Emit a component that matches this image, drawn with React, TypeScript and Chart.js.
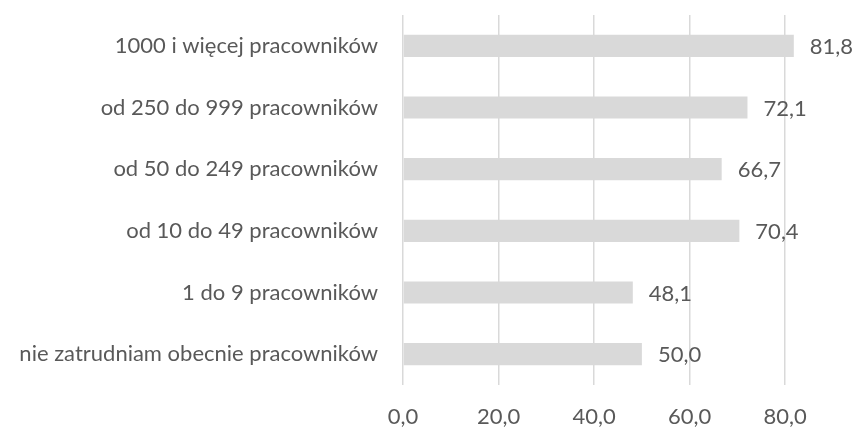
import React, { useEffect, useRef } from "react";
import { Chart, registerables } from "chart.js";

Chart.register(...registerables);

const categories = [
  "1000 i więcej pracowników",
  "od 250 do 999 pracowników",
  "od 50 do 249 pracowników",
  "od 10 do 49 pracowników",
  "1 do 9 pracowników",
  "nie zatrudniam obecnie pracowników",
];
const values = [81.8, 72.1, 66.7, 70.4, 48.1, 50.0];
const axisMax = 90;
const axisStep = 20;

const FONT = "Lato, 'Open Sans', sans-serif";
const FONT_SIZE = 22;
const TEXT = "#595959";
const GRAY = "#d9d9d9";

const fmt = (v: number) => v.toFixed(1).replace(".", ",");

// Draws each bar's value just past its end.
const valueLabels = {
  id: "valueLabels",
  afterDatasetsDraw(chart: any) {
    const { ctx } = chart;
    const meta = chart.getDatasetMeta(0);
    ctx.save();
    ctx.font = `${FONT_SIZE}px ${FONT}`;
    ctx.fillStyle = TEXT;
    ctx.textAlign = "left";
    ctx.textBaseline = "middle";
    meta.data.forEach((bar: any, i: number) => {
      ctx.fillText(fmt(values[i]), bar.x + 16, bar.y + 1);
    });
    ctx.restore();
  },
};

export default function App() {
  const ref = useRef<HTMLCanvasElement | null>(null);

  useEffect(() => {
    if (!ref.current) return;
    const chart = new Chart(ref.current, {
      type: "bar",
      data: {
        labels: categories,
        datasets: [
          {
            data: values,
            backgroundColor: GRAY,
            barPercentage: 0.36,
            categoryPercentage: 1,
          },
        ],
      },
      plugins: [valueLabels],
      options: {
        indexAxis: "y",
        animation: false,
        responsive: true,
        maintainAspectRatio: false,
        layout: { padding: { top: 15, right: 24, left: 0, bottom: 0 } },
        plugins: {
          legend: { display: false },
          tooltip: { enabled: false },
        },
        scales: {
          x: {
            min: 0,
            max: axisMax,
            afterBuildTicks: (scale: any) => {
              scale.ticks = scale.ticks.filter((t: any) => t.value % axisStep === 0);
            },
            afterFit: (scale: any) => {
              scale.height = 42;
              scale.paddingLeft = 0;
              scale.paddingRight = 0;
            },
            ticks: {
              stepSize: axisStep,
              padding: 19,
              color: TEXT,
              font: { family: FONT, size: FONT_SIZE },
              callback: (v: any) => fmt(Number(v)),
              maxRotation: 0,
            },
            grid: { color: GRAY, lineWidth: 1.5, drawTicks: false },
            border: { display: false },
          },
          y: {
            afterFit: (scale: any) => {
              scale.width = 403;
              scale.paddingTop = 0;
              scale.paddingBottom = 0;
            },
            ticks: {
              padding: 25,
              color: TEXT,
              font: { family: FONT, size: FONT_SIZE },
            },
            grid: { display: false, drawTicks: false },
            border: { display: false },
          },
        },
      },
    });
    return () => chart.destroy();
  }, []);

  return (
    <div style={{ position: "fixed", left: 0, top: 0, width: 857, height: 427, background: "#fff" }}>
      <canvas ref={ref} />
    </div>
  );
}
